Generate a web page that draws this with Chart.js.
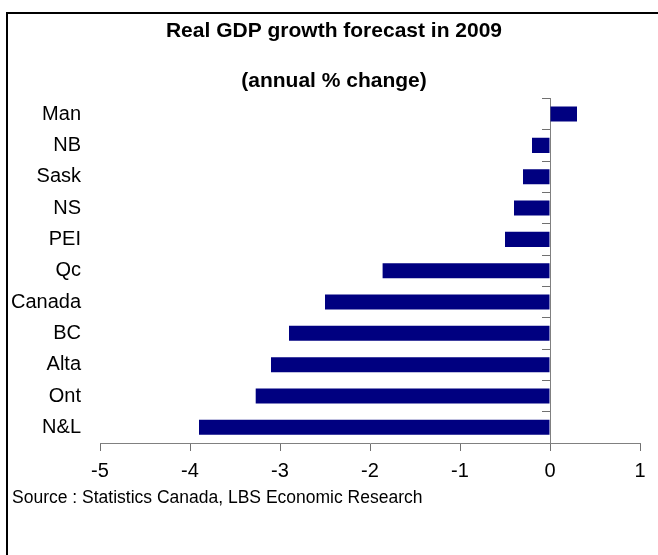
<!DOCTYPE html>
<html>
<head>
<meta charset="utf-8">
<script src="https://cdn.jsdelivr.net/npm/chart.js@4"></script>
<style>
    body { margin: 0; background: #fff; overflow: hidden; }
    #wrap { position: relative; width: 658px; height: 555px; overflow: hidden; }
    #frame {
        position: absolute; left: 6px; top: 12px; width: 700px; height: 600px;
        border-top: 2px solid #000; border-left: 2px solid #000;
    }
    #chart { position: absolute; left: 0; top: 0; }
    #source {
        position: absolute; left: 12px; top: 487px;
        font: 17.5px 'Liberation Sans', Arial, sans-serif; line-height: 20px; color: #000;
    }
</style>
</head>
<body>
<div id="wrap">
    <div id="frame"></div>
    <canvas id="chart" width="668" height="555"></canvas>
    <div id="source">Source : Statistics Canada, LBS Economic Research</div>
</div>
<script>
// Provinces (ordre du graphique, du haut vers le bas)
const provinces = ['Man', 'NB', 'Sask', 'NS', 'PEI', 'Qc', 'Canada', 'BC', 'Alta', 'Ont', 'N&L'];

// Croissance du PIB réel prévue en 2009 (% annuel)
const gdpGrowth = [0.3, -0.2, -0.3, -0.4, -0.5, -1.86, -2.5, -2.9, -3.1, -3.27, -3.9];

// Graduations de l'axe horizontal
const xTicks = [-5, -4, -3, -2, -1, 0, 1];

const FONT = "'Liberation Sans', Arial, sans-serif";

const ctx = document.getElementById('chart').getContext('2d');

new Chart(ctx, {
    type: 'bar',
    data: {
        labels: provinces,
        datasets: [{
            data: gdpGrowth,
            backgroundColor: '#000080',
            borderWidth: 0,
            barPercentage: 0.48,
            categoryPercentage: 1
        }]
    },
    options: {
        indexAxis: 'y',
        responsive: false,
        animation: false,
        devicePixelRatio: 1,
        layout: {
            padding: { left: 0, right: 0, top: 0, bottom: 64 }
        },
        scales: {
            x: {
                min: xTicks[0],
                max: xTicks[xTicks.length - 1],
                afterBuildTicks: function(scale) {
                    scale.ticks = xTicks.map(v => ({ value: v }));
                },
                ticks: {
                    color: '#000',
                    padding: 8,
                    font: { family: FONT, size: 20 }
                },
                grid: {
                    drawOnChartArea: false,
                    drawTicks: true,
                    tickLength: 8,
                    color: '#707070'
                },
                border: { display: true, color: '#808080', width: 1 }
            },
            y: {
                position: 'left',
                afterFit: function(scale) {
                    scale.width = 100;
                },
                ticks: {
                    color: '#000',
                    padding: 19,
                    font: { family: FONT, size: 20 }
                },
                grid: { display: false, drawTicks: false },
                border: { display: false }
            },
            // axe vertical au zéro, avec les petites graduations à gauche
            y2: {
                type: 'category',
                axis: 'y',
                position: { x: 0 },
                offset: true,
                ticks: { display: false },
                grid: {
                    offset: true,
                    drawOnChartArea: false,
                    drawTicks: true,
                    tickLength: 8,
                    color: '#707070'
                },
                border: { display: true, color: '#808080', width: 1 }
            },
            // marge à droite (vide) pour centrer le titre comme dans l'original
            yRight: {
                type: 'category',
                axis: 'y',
                position: 'right',
                afterFit: function(scale) {
                    scale.width = 28;
                },
                ticks: { display: false },
                grid: { display: false, drawTicks: false },
                border: { display: false }
            }
        },
        plugins: {
            legend: { display: false },
            tooltip: { enabled: false },
            title: {
                display: true,
                text: 'Real GDP growth forecast in 2009',
                color: '#000',
                font: { family: FONT, size: 21, weight: 'bold' },
                padding: { top: 19, bottom: 12 }
            },
            subtitle: {
                display: true,
                text: '(annual % change)',
                color: '#000',
                font: { family: FONT, size: 21, weight: 'bold' },
                padding: { top: 12, bottom: 5 }
            }
        }
    }
});
</script>
</body>
</html>
